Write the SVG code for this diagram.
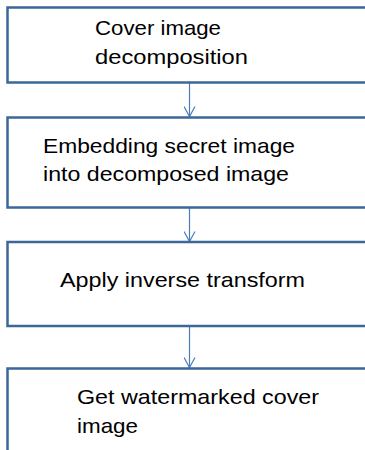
<svg xmlns="http://www.w3.org/2000/svg" width="365" height="450" viewBox="0 0 365 450">
<style>
.box{fill:#ffffff;stroke:#3D6699;stroke-width:2.5}
.t{font-family:"Liberation Sans",Arial,sans-serif;font-size:21px;fill:#000000}
.c{stroke:#4A7EBB;stroke-width:1.2;fill:none}
</style>
<defs>
<marker id="arr" viewBox="0 0 12 12" refX="11" refY="6" markerWidth="12" markerHeight="12" markerUnits="userSpaceOnUse" orient="auto">
<path d="M1,0.5 L11,6 L1,11.5" fill="none" stroke="#4A7EBB" stroke-width="1.2"/>
</marker>
</defs>
<rect width="365" height="450" fill="#ffffff"/>
<g id="connectors">
<line class="c" x1="189.5" y1="83" x2="189.5" y2="116.5" marker-end="url(#arr)"/>
<line class="c" x1="189.5" y1="208" x2="189.5" y2="241.5" marker-end="url(#arr)"/>
<line class="c" x1="189.5" y1="327" x2="189.5" y2="367.5" marker-end="url(#arr)"/>
</g>
<g id="node1">
<rect class="box" x="7.5" y="7.5" width="380" height="75"/>
<text class="t" x="95" y="35" textLength="126" lengthAdjust="spacingAndGlyphs">Cover image</text>
<text class="t" x="95" y="64" textLength="153" lengthAdjust="spacingAndGlyphs">decomposition</text>
</g>
<g id="node2">
<rect class="box" x="7.5" y="117.5" width="380" height="90"/>
<text class="t" x="43" y="153" textLength="252" lengthAdjust="spacingAndGlyphs">Embedding secret image</text>
<text class="t" x="43" y="181" textLength="246" lengthAdjust="spacingAndGlyphs">into decomposed image</text>
</g>
<g id="node3">
<rect class="box" x="7.5" y="242" width="380" height="84"/>
<text class="t" x="60" y="287" textLength="245" lengthAdjust="spacingAndGlyphs">Apply inverse transform</text>
</g>
<g id="node4">
<rect class="box" x="7.5" y="368.5" width="380" height="100"/>
<text class="t" x="77" y="404" textLength="242" lengthAdjust="spacingAndGlyphs">Get watermarked cover</text>
<text class="t" x="77" y="433" textLength="61" lengthAdjust="spacingAndGlyphs">image</text>
</g>
</svg>
